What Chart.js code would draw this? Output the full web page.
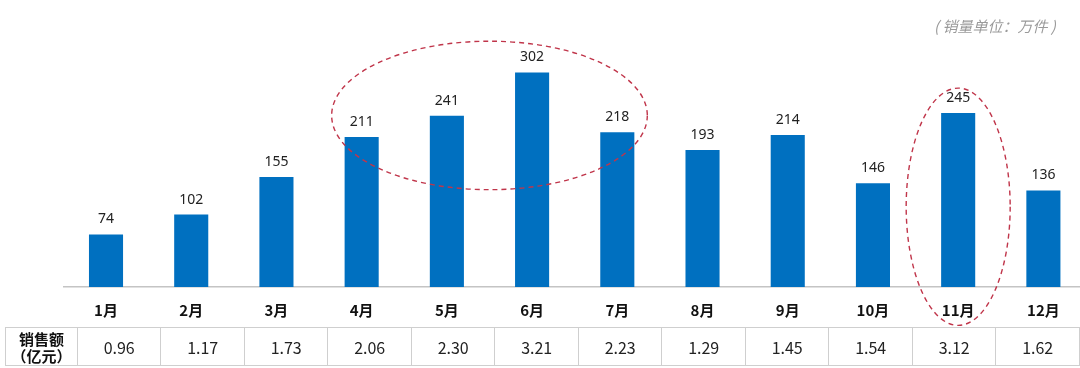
<!DOCTYPE html>
<html><head><meta charset="utf-8">
<script src="https://cdn.jsdelivr.net/npm/chart.js@4"></script>
<style>
html,body{margin:0;padding:0;background:#fff;}
#wrap{position:relative;width:1080px;height:368px;overflow:hidden;}
#c{position:absolute;left:0;top:0;}
#unit{position:absolute;left:934px;top:15px;font:italic 15px "Noto Sans CJK SC",sans-serif;color:#9a9a9a;white-space:nowrap;}
table{position:absolute;left:5px;top:327px;border-collapse:collapse;table-layout:fixed;font-family:"Noto Sans CJK SC","Noto Sans",sans-serif;}
td{border:1px solid #cfcfcf;text-align:center;height:37px;padding:0;font-size:16px;color:#222;}
td.h{width:71px;font-weight:bold;font-size:15px;line-height:17px;color:#111;}
td.v{width:82.6px;}
</style></head>
<body><div id="wrap"><canvas id="c" width="1086" height="333"></canvas>
<div id="unit">( 销量单位：万件 )</div>
<table id="tbl"></table></div>
<script>
const months = ["1月","2月","3月","4月","5月","6月","7月","8月","9月","10月","11月","12月"];
const sales = [74,102,155,211,241,302,218,193,214,146,245,136];
const revenue = ["0.96","1.17","1.73","2.06","2.30","3.21","2.23","1.29","1.45","1.54","3.12","1.62"];
const rowHeader = ["销售额","（亿元）"];

// table
const tr = document.createElement('tr');
const th = document.createElement('td'); th.className='h'; th.innerHTML = rowHeader.join('<br>'); tr.appendChild(th);
revenue.forEach(v=>{const td=document.createElement('td');td.className='v';td.textContent=v;tr.appendChild(td);});
document.getElementById('tbl').appendChild(tr);

const highlights = [
  {from:3,to:6,padX:30,top:346,bottom:137},
  {from:10,to:10,padX:52,top:280,bottom:-54}
];

const labelPlugin = {
  id:'labels',
  afterDatasetsDraw(chart){
    const ctx=chart.ctx; const meta=chart.getDatasetMeta(0);
    ctx.save(); ctx.font='14px "Noto Sans","Noto Sans CJK SC",sans-serif'; ctx.fillStyle='#222';
    ctx.textAlign='center'; ctx.textBaseline='middle';
    meta.data.forEach((b,i)=>{ctx.fillText(String(sales[i]), b.x, b.y-15);});
    ctx.restore();
  },
  afterDraw(chart){
    const ctx=chart.ctx, xs=chart.scales.x, ys=chart.scales.y;
    ctx.save(); ctx.strokeStyle='#c0354a'; ctx.lineWidth=1.4; ctx.setLineDash([5,4]);
    highlights.forEach(h=>{
      const x1=xs.getPixelForValue(h.from), x2=xs.getPixelForValue(h.to);
      const cx=(x1+x2)/2, rx=(x2-x1)/2+h.padX;
      const yt=ys.getPixelForValue(h.top), yb=ys.getPixelForValue(h.bottom);
      ctx.beginPath(); ctx.ellipse(cx,(yt+yb)/2,rx,(yb-yt)/2,0,0,Math.PI*2); ctx.stroke();
    });
    ctx.restore();
  }
};

new Chart(document.getElementById('c'),{
  type:'bar',
  data:{labels:months,datasets:[{data:sales,backgroundColor:'#0070C0',barPercentage:0.4,categoryPercentage:1}]},
  options:{
    responsive:false,animation:false,
    layout:{padding:{left:63.4,right:0,top:0,bottom:0}},
    plugins:{legend:{display:false},tooltip:{enabled:false}},
    scales:{
      x:{grid:{display:false,drawTicks:false},border:{display:true,color:'#c4c4c4',width:1.5},
         ticks:{color:'#111',padding:14,font:{size:15,weight:'bold',family:'"Noto Sans CJK SC",sans-serif'}}},
      y:{display:false,min:0,max:404}
    }
  },
  plugins:[labelPlugin]
});
</script></body></html>
